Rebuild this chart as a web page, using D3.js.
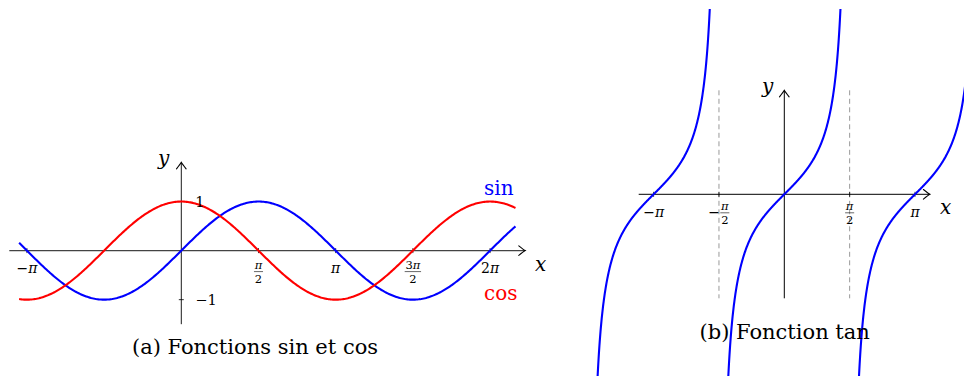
<!DOCTYPE html>
<html>
<head>
<meta charset="utf-8">
<script src="https://cdn.jsdelivr.net/npm/d3@7"></script>
<style>
  html, body { margin: 0; padding: 0; background: #fff; }
  svg { display: block; }
  text { font-family: "DejaVu Serif", "Liberation Serif", serif; fill: #000; }
</style>
</head>
<body>
<script>
// ---- Data -------------------------------------------------------------
const PI = Math.PI;

// (a) sin and cos
const trigDomain = [-3.3, 6.8];            // x range over which both curves are drawn
const trigAxisX = [-3.5, 7];               // horizontal axis extent
const trigAxisY = [-1.5, 1.8];             // vertical axis extent
const trigTickValues = [-PI, PI / 2, PI, 3 * PI / 2, 2 * PI];
const trigTickLabels = ["−π", "π/2", "π", "3π/2", "2π"];
const trigYTickValues = [1, -1];
const trigYTickLabels = ["1", "−1"];
const trigSeries = [
  { name: "sin", fn: Math.sin, color: "#0000ff" },
  { name: "cos", fn: Math.cos, color: "#ff0000" }
];

// (b) tan
const tanBranchCenters = [-PI, 0, PI];     // one branch per period
const tanBranchHalfWidth = 1.35;           // each branch spans center ± this
const tanAxisX = [-3.5, 3.5];
const tanAxisY = [-2.5, 2.5];
const tanTickValues = [-PI, -PI / 2, PI / 2, PI];
const tanTickLabels = ["−π", "−π/2", "π/2", "π"];
const tanAsymptotes = [-PI / 2, PI / 2];

const captions = ["(a) Fonctions sin et cos", "(b) Fonction tan"];

// ---- Setup ------------------------------------------------------------
const W = 964, H = 376;
const svg = d3.select("body").append("svg").attr("width", W).attr("height", H);

function sample(fn, a, b, n) {
  const pts = [];
  for (let i = 0; i <= n; i++) {
    const x = a + (b - a) * i / n;
    pts.push([x, fn(x)]);
  }
  return pts;
}

// open "to"-style arrow tip pointing in direction (dx,dy)
function arrowTip(g, x, y, dx, dy, color) {
  const L = 6.5, Hh = 4.8;
  const px = -dy, py = dx;
  const bx = x - dx * L, by = y - dy * L;
  const c1x = x - dx * 1.5, c1y = y - dy * 1.5;
  g.append("path")
    .attr("d", `M${bx + px * Hh},${by + py * Hh} Q${c1x + px * 0.8},${c1y + py * 0.8} ${x},${y} Q${c1x - px * 0.8},${c1y - py * 0.8} ${bx - px * Hh},${by - py * Hh}`)
    .attr("fill", "none").attr("stroke", color).attr("stroke-width", 1.1)
    .attr("stroke-linecap", "round");
}

// A math label: optional leading minus, then either a plain term or a fraction
function mathLabel(g, label, cx, axisY, opt) {
  const grp = g.append("g");
  let s = label;
  const parts = [];
  if (s.startsWith("−")) {
    const t = grp.append("text").attr("font-size", opt.size).text("−");
    parts.push({ node: t, w: t.node().getComputedTextLength(), kind: "plain" });
    s = s.slice(1);
  }
  if (s.includes("/")) {
    const [num, den] = s.split("/");
    const fg = grp.append("g");
    const tn = fg.append("text").attr("font-size", opt.fracSize).attr("text-anchor", "middle")
      .attr("y", opt.barDy - 2.4);
    styledTerm(tn, num);
    const td = fg.append("text").attr("font-size", opt.fracSize).attr("text-anchor", "middle")
      .attr("y", opt.barDy + 11.2).text(den);
    const w = Math.max(tn.node().getComputedTextLength(), td.node().getComputedTextLength()) + 1.5;
    fg.append("line").attr("x1", -w / 2).attr("x2", w / 2)
      .attr("y1", opt.barDy).attr("y2", opt.barDy)
      .attr("stroke", "#000").attr("stroke-width", 0.6);
    parts.push({ node: fg, w: w + 0.6, kind: "frac" });
  } else {
    const t = grp.append("text").attr("font-size", opt.size);
    styledTerm(t, s);
    parts.push({ node: t, w: t.node().getComputedTextLength(), kind: "plain" });
  }
  const total = d3.sum(parts, p => p.w);
  let x0 = cx - total / 2;
  parts.forEach(p => {
    if (p.kind === "frac") {
      p.node.attr("transform", `translate(${x0 + p.w / 2},${axisY})`);
    } else {
      p.node.attr("x", x0).attr("y", axisY + opt.baseDy);
    }
    x0 += p.w;
  });
  return grp;
}

// digits upright, π italic
function styledTerm(textSel, str) {
  for (const ch of str) {
    textSel.append("tspan").attr("font-style", ch === "π" ? "italic" : "normal").text(ch);
  }
}

// ---- (a) sin & cos ----------------------------------------------------
const xA = d3.scaleLinear().domain(trigAxisX).range([9.3, 525.3]);
const yA = d3.scaleLinear().domain(trigAxisY).range([324.2, 162.3]);
const gA = svg.append("g");

// axes
gA.append("line").attr("x1", xA(trigAxisX[0])).attr("x2", xA(trigAxisX[1]) - 0.5)
  .attr("y1", yA(0)).attr("y2", yA(0)).attr("stroke", "#444").attr("stroke-width", 1.4);
arrowTip(gA, xA(trigAxisX[1]), yA(0), 1, 0, "#000");
gA.append("line").attr("x1", xA(0)).attr("x2", xA(0))
  .attr("y1", yA(trigAxisY[0])).attr("y2", yA(trigAxisY[1]) + 0.5)
  .attr("stroke", "#000").attr("stroke-width", 0.9);
arrowTip(gA, xA(0), yA(trigAxisY[1]), 0, -1, "#000");

// ticks
gA.selectAll("line.xt").data(trigTickValues).join("line").attr("class", "xt")
  .attr("x1", d => xA(d)).attr("x2", d => xA(d))
  .attr("y1", yA(0) - 2.5).attr("y2", yA(0) + 2.5).attr("stroke", "#000").attr("stroke-width", 0.8);
gA.selectAll("line.yt").data(trigYTickValues).join("line").attr("class", "yt")
  .attr("x1", xA(0) - 2.5).attr("x2", xA(0) + 2.5)
  .attr("y1", d => yA(d)).attr("y2", d => yA(d)).attr("stroke", "#000").attr("stroke-width", 0.8);

// curves
const lineA = d3.line().x(d => xA(d[0])).y(d => yA(d[1]));
trigSeries.forEach(s => {
  gA.append("path").datum(sample(s.fn, trigDomain[0], trigDomain[1], 400))
    .attr("d", lineA).attr("fill", "none").attr("stroke", s.color)
    .attr("stroke-width", 2.1).attr("stroke-linejoin", "round");
});

// tick labels
const optA = { size: 14, fracSize: 11.5, baseDy: 22.3, barDy: 21.0 };
trigTickValues.forEach((v, i) => mathLabel(gA, trigTickLabels[i], xA(v), yA(0), optA));
trigYTickValues.forEach((v, i) => {
  gA.append("text").attr("x", xA(0) + 14).attr("y", yA(v) + 5)
    .attr("font-size", 14.5).text(trigYTickLabels[i]);
});

// axis names
gA.append("text").attr("x", 535).attr("y", yA(0) + 20).attr("font-size", 20)
  .attr("font-style", "italic").text("x");
gA.append("text").attr("x", 158).attr("y", 165).attr("font-size", 20)
  .attr("font-style", "italic").text("y");

// series names
gA.append("text").attr("x", 484).attr("y", 195).attr("font-size", 20)
  .style("fill", trigSeries[0].color).text(trigSeries[0].name);
gA.append("text").attr("x", 484).attr("y", 300).attr("font-size", 20)
  .style("fill", trigSeries[1].color).text(trigSeries[1].name);

// caption
svg.append("text").attr("x", 255).attr("y", 354).attr("text-anchor", "middle")
  .attr("font-size", 21).text(captions[0]);

// ---- (b) tan ----------------------------------------------------------
const xB = d3.scaleLinear().domain(tanAxisX).range([638.7, 929.9]);
const yB = d3.scaleLinear().domain(tanAxisY).range([298.3, 90.3]);
const gB = svg.append("g");

// asymptotes
gB.selectAll("line.asym").data(tanAsymptotes).join("line").attr("class", "asym")
  .attr("x1", d => xB(d)).attr("x2", d => xB(d))
  .attr("y1", yB(tanAxisY[1])).attr("y2", yB(tanAxisY[0]))
  .attr("stroke", "#999").attr("stroke-width", 1).attr("stroke-dasharray", "5,3.5");

// axes
gB.append("line").attr("x1", xB(tanAxisX[0])).attr("x2", xB(tanAxisX[1]) - 0.5)
  .attr("y1", yB(0)).attr("y2", yB(0)).attr("stroke", "#000").attr("stroke-width", 1);
arrowTip(gB, xB(tanAxisX[1]), yB(0), 1, 0, "#000");
gB.append("line").attr("x1", xB(0)).attr("x2", xB(0))
  .attr("y1", yB(tanAxisY[0])).attr("y2", yB(tanAxisY[1]) + 0.5)
  .attr("stroke", "#000").attr("stroke-width", 1);
arrowTip(gB, xB(0), yB(tanAxisY[1]), 0, -1, "#000");

// ticks
gB.selectAll("line.xt").data(tanTickValues).join("line").attr("class", "xt")
  .attr("x1", d => xB(d)).attr("x2", d => xB(d))
  .attr("y1", yB(0) - 2.5).attr("y2", yB(0) + 2.5).attr("stroke", "#000").attr("stroke-width", 0.8);

// tick labels
const optB = { size: 14, fracSize: 11.5, baseDy: 22.3, barDy: 18.5 };
tanTickValues.forEach((v, i) => mathLabel(gB, tanTickLabels[i], xB(v), yB(0), optB));

// axis names
gB.append("text").attr("x", 940).attr("y", 214).attr("font-size", 20)
  .attr("font-style", "italic").text("x");
gB.append("text").attr("x", 762).attr("y", 93).attr("font-size", 20)
  .attr("font-style", "italic").text("y");

// caption
svg.append("text").attr("x", 784.7).attr("y", 339).attr("text-anchor", "middle")
  .attr("font-size", 21).text(captions[1]);

// branches
const lineB = d3.line().x(d => xB(d[0])).y(d => yB(d[1]));
tanBranchCenters.forEach(c => {
  gB.append("path")
    .datum(sample(Math.tan, c - tanBranchHalfWidth, c + tanBranchHalfWidth, 400))
    .attr("d", lineB).attr("fill", "none").attr("stroke", "#0000ff")
    .attr("stroke-width", 2.1).attr("stroke-linejoin", "round");
});
</script>
</body>
</html>
